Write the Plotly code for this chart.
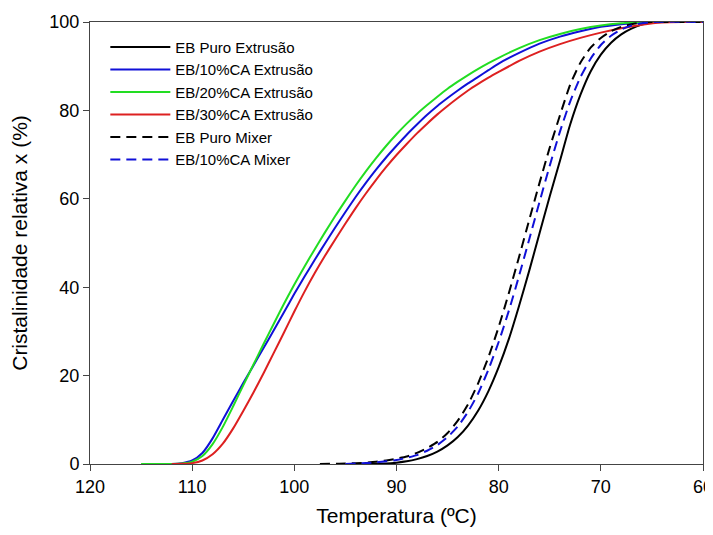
import plotly.graph_objects as go

# temperatura (C) e cristalinidade relativa (%)
t_puro_ext = [93, 91, 90, 89, 88, 87, 86, 85, 84, 83, 82, 81, 80, 79, 78, 77, 76, 75, 74, 73, 72, 71, 70, 69, 68, 67, 66, 65, 64, 60]
x_puro_ext = [0, 0.1, 0.3, 0.6, 1.1, 1.8, 2.8, 4.2, 6.1, 8.7, 12.1, 16.5, 21.9, 28.3, 35.8, 43.8, 52.2, 60.6, 68.6, 76.8, 83.5, 88.8, 92.6, 95.3, 97.2, 98.5, 99.4, 99.9, 100, 100]

t_10_ext = [114.6, 112, 111, 110, 109, 108, 107, 106, 105, 104, 103, 102, 101, 100, 99, 98, 97, 96, 95, 94, 93, 92, 91, 90, 89, 88, 87, 86, 85, 84, 83, 82, 81, 80, 78, 76, 74, 72, 70, 68, 66, 65, 60]
x_10_ext = [0, 0, 0.2, 0.8, 2.5, 5.8, 10.0, 14.2, 18.3, 22.3, 26.3, 30.3, 34.4, 38.5, 42.4, 46.2, 49.9, 53.5, 57.0, 60.4, 63.6, 66.6, 69.4, 72.0, 74.5, 76.8, 79.0, 81.0, 82.8, 84.5, 86.1, 87.6, 89.1, 90.6, 93.0, 95.1, 96.7, 97.9, 98.9, 99.5, 99.9, 100, 100]

t_20_ext = [115, 112, 111, 110, 109, 108, 107, 106, 105, 104, 103, 102, 101, 100, 99, 98, 97, 96, 95, 94, 93, 92, 91, 90, 89, 88, 87, 86, 85, 84, 83, 82, 81, 80, 78, 76, 74, 72, 70, 68, 66, 60]
x_20_ext = [0, 0, 0.1, 0.5, 1.8, 4.5, 8.4, 13.0, 17.8, 22.5, 27.2, 31.8, 36.3, 40.6, 44.7, 48.6, 52.4, 56.1, 59.6, 63.0, 66.2, 69.2, 72.0, 74.6, 77.0, 79.2, 81.2, 83.1, 84.9, 86.5, 88.0, 89.4, 90.7, 91.9, 94.1, 95.9, 97.3, 98.4, 99.2, 99.7, 100, 100]

t_30_ext = [112, 111, 110, 109, 108, 107, 106, 105, 104, 103, 102, 101, 100, 99, 98, 97, 96, 95, 94, 93, 92, 91, 90, 89, 88, 87, 86, 85, 84, 83, 82, 81, 80, 78, 76, 74, 72, 70, 68, 66, 64, 62, 60]
x_30_ext = [0, 0.05, 0.2, 0.8, 2.2, 4.6, 8.0, 12.0, 16.2, 20.6, 25.2, 29.8, 34.5, 39.0, 43.2, 47.1, 50.8, 54.4, 57.9, 61.2, 64.3, 67.2, 69.9, 72.4, 74.8, 77.0, 79.1, 81.0, 82.8, 84.5, 86.0, 87.4, 88.7, 91.2, 93.3, 95.0, 96.4, 97.6, 98.6, 99.4, 99.9, 100, 100]

t_puro_mix = [97.5, 95, 93, 92, 91, 90, 89, 88, 87, 86, 85, 84, 83, 82, 81, 80, 79, 78, 77, 76, 75, 74, 73, 72, 71, 70, 69, 68, 67, 66, 65, 60]
x_puro_mix = [0, 0.1, 0.3, 0.5, 0.8, 1.2, 1.7, 2.5, 3.6, 5.0, 7.0, 9.8, 13.5, 18.3, 24.2, 31.0, 38.7, 46.9, 55.3, 63.6, 71.6, 78.9, 85.8, 90.8, 94.2, 96.4, 97.9, 98.9, 99.5, 99.9, 100, 100]

t_10_mix = [95, 93, 92, 91, 90, 89, 88, 87, 86, 85, 84, 83, 82, 81, 80, 79, 78, 77, 76, 75, 74, 73, 72, 71, 70, 69, 68, 67, 66, 65, 60]
x_10_mix = [0, 0.2, 0.4, 0.6, 0.9, 1.4, 2.0, 3.0, 4.3, 6.1, 8.5, 11.8, 16.0, 21.4, 27.6, 34.7, 42.6, 50.9, 59.3, 67.5, 75.2, 82.0, 87.5, 91.7, 94.8, 96.9, 98.3, 99.2, 99.7, 100, 100]

series = [
    ("EB Puro Extrusão", t_puro_ext, x_puro_ext, "black", "solid"),
    ("EB/10%CA Extrusão", t_10_ext, x_10_ext, "#1010d8", "solid"),
    ("EB/20%CA Extrusão", t_20_ext, x_20_ext, "#22dd22", "solid"),
    ("EB/30%CA Extrusão", t_30_ext, x_30_ext, "#dd2020", "solid"),
    ("EB Puro Mixer", t_puro_mix, x_puro_mix, "black", "10px,6px"),
    ("EB/10%CA Mixer", t_10_mix, x_10_mix, "#1010d8", "10px,6px"),
]

fig = go.Figure()
for name, t, x, cor, dash in series:
    fig.add_trace(go.Scatter(x=t, y=x, mode="lines", name=name,
                             line=dict(color=cor, width=2, dash=dash, shape="spline", smoothing=0.6)))

# a pagina tem margem de 8px no body, por isso a figura e 8px menor
fig.update_layout(
    width=705, height=527,
    margin=dict(l=82, r=10, t=14, b=71),
    paper_bgcolor="white", plot_bgcolor="white",
    font=dict(family="Liberation Sans, Arial, sans-serif", size=18, color="black"),
    showlegend=True,
    legend=dict(x=0.025, y=0.98, xanchor="left", yanchor="top",
                bgcolor="rgba(0,0,0,0)", font=dict(size=15),
                itemwidth=60, tracegroupgap=0),
)
fig.update_xaxes(range=[120, 60], tickvals=[120, 110, 100, 90, 80, 70, 60],
                 ticks="outside", ticklen=6, tickcolor="#444", showline=True,
                 linecolor="#444", linewidth=1, mirror=True, showgrid=False, zeroline=False,
                 automargin=False, ticklabeloverflow="allow",
                 title=dict(text="Temperatura (ºC)", font=dict(size=21), standoff=12))
fig.update_yaxes(range=[0, 100], tickvals=[0, 20, 40, 60, 80, 100],
                 ticks="outside", ticklen=6, tickcolor="#444", showline=True,
                 linecolor="#444", linewidth=1, mirror=True, showgrid=False, zeroline=False,
                 automargin=False,
                 title=dict(text="Cristalinidade relativa x (%)", font=dict(size=21), standoff=16))

fig.write_html("out.html")
